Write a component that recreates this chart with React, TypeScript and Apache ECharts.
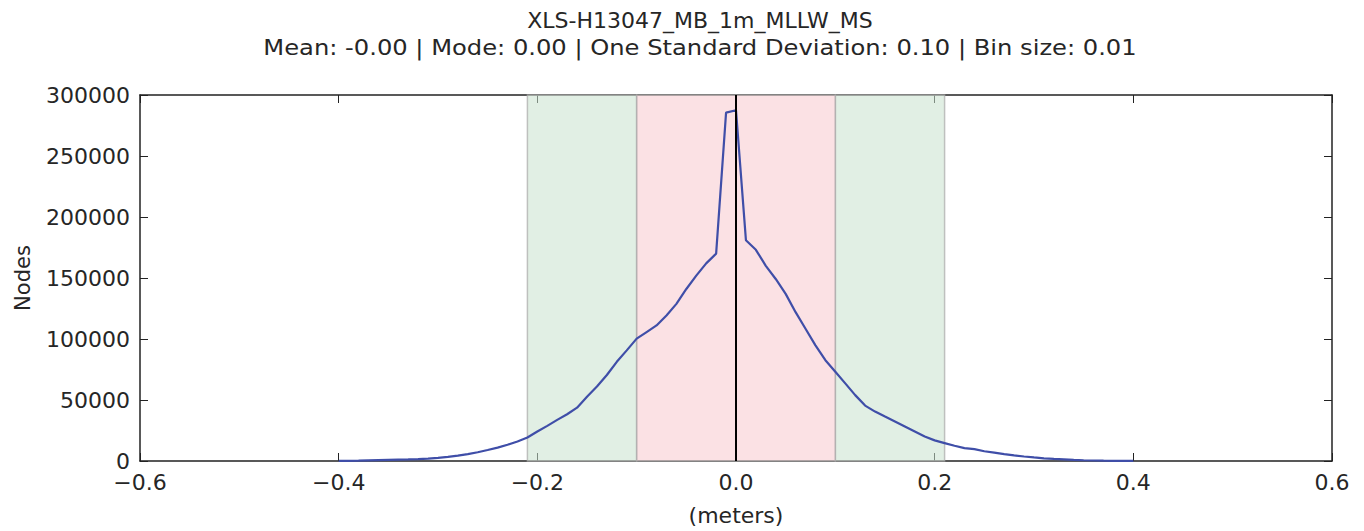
import React, { useEffect, useRef } from "react";
import * as echarts from "echarts";

const chartTitle = "XLS-H13047_MB_1m_MLLW_MS";
const chartSubtitle =
  "Mean: -0.00 | Mode: 0.00 | One Standard Deviation: 0.10 | Bin size: 0.01";

// Bin centres (meters) and node counts per bin
const binCenters = [
  -0.4, -0.39, -0.38, -0.37, -0.36, -0.35, -0.34, -0.33, -0.32, -0.31,
  -0.3, -0.29, -0.28, -0.27, -0.26, -0.25, -0.24, -0.23, -0.22, -0.21,
  -0.2, -0.19, -0.18, -0.17, -0.16, -0.15, -0.14, -0.13, -0.12, -0.11,
  -0.1, -0.09, -0.08, -0.07, -0.06, -0.05, -0.04, -0.03, -0.02, -0.01,
  0.0,
  0.01, 0.02, 0.03, 0.04, 0.05, 0.06, 0.07, 0.08, 0.09, 0.1,
  0.11, 0.12, 0.13, 0.14, 0.15, 0.16, 0.17, 0.18, 0.19, 0.2,
  0.21, 0.22, 0.23, 0.24, 0.25, 0.26, 0.27, 0.28, 0.29, 0.3,
  0.31, 0.32, 0.33, 0.34, 0.35, 0.36, 0.37, 0.38, 0.39, 0.4,
];

const nodeCounts = [
  50, 150, 300, 500, 700, 900, 1100, 1300, 1600, 2000,
  2600, 3400, 4400, 5700, 7200, 9000, 11000, 13300, 16000, 19300,
  24200, 28800, 33700, 38300, 43700, 52700, 61000, 70500, 81300, 90700,
  100300, 105700, 111100, 119300, 128800, 141000, 151900, 162000, 170000, 285500,
  287500,
  181000, 173100, 160000, 149200, 137000, 122000, 108400, 94800, 82600, 73100,
  63600, 54000, 45400, 40500, 36400, 32400, 28300, 24200, 20100, 16900,
  14700, 12500, 10600, 9700, 8000, 6800, 5600, 4600, 3700, 2900,
  2200, 1700, 1300, 900, 600, 400, 250, 150, 80, 40,
];

// One and two standard deviation bands
const oneSigma = [-0.1, 0.1];
const twoSigmaLeft = [-0.21, -0.1];
const twoSigmaRight = [0.1, 0.21];

const xTicks = { min: -0.6, max: 0.6, interval: 0.2 };
const yTicks = { min: 0, max: 300000, interval: 50000 };

const FONT = "DejaVu Sans";
const TEXT = "#262626";
const TITLE_CENTER_X = 700;

export default function App() {
  const ref = useRef<HTMLDivElement>(null);

  useEffect(() => {
    document.body.style.margin = "0";
    if (!ref.current) return;
    const chart = echarts.init(ref.current, undefined, { renderer: "svg" });

    const fmtX = (v: number) => {
      const s = Math.abs(v) < 1e-9 ? "0.0" : v.toFixed(1);
      return s.replace("-", "\u2212");
    };

    const tickStyle = { inside: true, length: 8, lineStyle: { color: "#222", width: 1 } };
    const frameLine = { show: true, onZero: false, lineStyle: { color: "#222", width: 1.5 } };

    const green = "rgba(200,225,205,0.55)";
    const pink = "rgba(248,205,210,0.6)";
    const bandBorder = "rgba(170,170,170,0.7)";

    const titleText = (text: string, y: number, stretch: number) => ({
      type: "text",
      x: TITLE_CENTER_X,
      y,
      scaleX: stretch,
      silent: true,
      style: {
        text,
        fontFamily: FONT,
        fontSize: 22,
        fill: TEXT,
        align: "center",
        verticalAlign: "middle",
        textAlign: "center",
        textVerticalAlign: "middle",
      },
    });

    chart.setOption({
      animation: false,
      backgroundColor: "#ffffff",
      textStyle: { fontFamily: FONT, color: TEXT },
      graphic: [titleText(chartTitle, 20, 1.0), titleText(chartSubtitle, 47, 1.1)],
      grid: { left: 140, right: 32, top: 95, bottom: 68, containLabel: false },
      xAxis: [
        {
          type: "value",
          ...xTicks,
          position: "bottom",
          name: "(meters)",
          nameLocation: "middle",
          nameGap: 43,
          nameTextStyle: { fontFamily: FONT, fontSize: 22, color: TEXT },
          axisLine: frameLine,
          axisTick: tickStyle,
          splitLine: { show: false },
          axisLabel: {
            fontFamily: FONT,
            fontSize: 22,
            color: TEXT,
            margin: 10,
            formatter: fmtX,
          },
        },
        {
          type: "value",
          ...xTicks,
          position: "top",
          axisLine: frameLine,
          axisTick: tickStyle,
          splitLine: { show: false },
          axisLabel: { show: false },
        },
      ],
      yAxis: [
        {
          type: "value",
          ...yTicks,
          position: "left",
          name: "Nodes",
          nameLocation: "middle",
          nameGap: 107,
          nameRotate: 90,
          nameTextStyle: { fontFamily: FONT, fontSize: 21, color: TEXT },
          axisLine: frameLine,
          axisTick: tickStyle,
          splitLine: { show: false },
          axisLabel: {
            fontFamily: FONT,
            fontSize: 22,
            color: TEXT,
            margin: 10,
            formatter: (v: number) => String(v),
          },
        },
        {
          type: "value",
          ...yTicks,
          position: "right",
          axisLine: frameLine,
          axisTick: tickStyle,
          splitLine: { show: false },
          axisLabel: { show: false },
        },
      ],
      series: [
        {
          type: "line",
          xAxisIndex: 0,
          yAxisIndex: 0,
          data: binCenters.map((x, i) => [x, nodeCounts[i]]),
          showSymbol: false,
          symbol: "none",
          lineStyle: { color: "#3f4ea8", width: 2.2 },
          z: 3,
          markArea: {
            silent: true,
            data: [
              [
                { xAxis: twoSigmaLeft[0], itemStyle: { color: green, borderColor: bandBorder, borderWidth: 1.5 } },
                { xAxis: twoSigmaLeft[1] },
              ],
              [
                { xAxis: twoSigmaRight[0], itemStyle: { color: green, borderColor: bandBorder, borderWidth: 1.5 } },
                { xAxis: twoSigmaRight[1] },
              ],
              [
                { xAxis: oneSigma[0], itemStyle: { color: pink, borderColor: bandBorder, borderWidth: 1.5 } },
                { xAxis: oneSigma[1] },
              ],
            ],
          },
          markLine: {
            silent: true,
            symbol: "none",
            label: { show: false },
            lineStyle: { color: "#000", width: 2, type: "solid" },
            data: [{ xAxis: 0 }],
          },
        },
      ],
    });

    return () => chart.dispose();
  }, []);

  return <div ref={ref} style={{ width: 1364, height: 531 }} />;
}
